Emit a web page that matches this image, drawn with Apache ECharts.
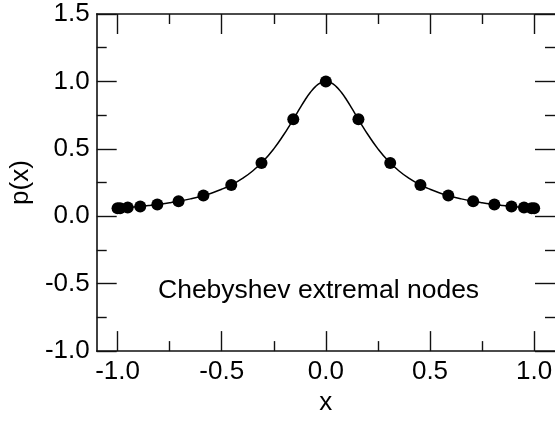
<!DOCTYPE html>
<html>
<head>
<meta charset="utf-8">
<script src="https://cdn.jsdelivr.net/npm/echarts@6/dist/echarts.min.js"></script>
<style>html,body{margin:0;padding:0;background:#fff}#c{width:555px;height:421px}</style>
</head>
<body>
<div id="c"></div>
<script>
// Chebyshev extremal nodes (points)
const nodeX = [-1.0, -0.9877, -0.9511, -0.8910, -0.8090, -0.7071, -0.5878, -0.4540, -0.3090, -0.1564, 0.0,
               0.1564, 0.3090, 0.4540, 0.5878, 0.7071, 0.8090, 0.8910, 0.9511, 0.9877, 1.0];
const nodeY = [0.0588, 0.0602, 0.0646, 0.0730, 0.0872, 0.1111, 0.1532, 0.2327, 0.3956, 0.7186, 1.0,
               0.7186, 0.3956, 0.2327, 0.1532, 0.1111, 0.0872, 0.0730, 0.0646, 0.0602, 0.0588];
// Curve p(x)
const curveX = [-1.0, -0.95, -0.9, -0.85, -0.8, -0.75, -0.7, -0.65, -0.6, -0.55, -0.5, -0.45, -0.4, -0.35, -0.3, -0.25,
                -0.2, -0.175, -0.15, -0.125, -0.1, -0.075, -0.05, -0.025, 0.0,
                0.025, 0.05, 0.075, 0.1, 0.125, 0.15, 0.175, 0.2,
                0.25, 0.3, 0.35, 0.4, 0.45, 0.5, 0.55, 0.6, 0.65, 0.7, 0.75, 0.8, 0.85, 0.9, 0.95, 1.0];
const curveY = [0.0588, 0.0648, 0.0716, 0.0796, 0.0890, 0.1000, 0.1131, 0.1289, 0.1479, 0.1712, 0.2000, 0.2358, 0.2809, 0.3378, 0.4098, 0.5000,
                0.6098, 0.6711, 0.7353, 0.8000, 0.8621, 0.9174, 0.9615, 0.9901, 1.0,
                0.9901, 0.9615, 0.9174, 0.8621, 0.8000, 0.7353, 0.6711, 0.6098,
                0.5000, 0.4098, 0.3378, 0.2809, 0.2358, 0.2000, 0.1712, 0.1479, 0.1289, 0.1131, 0.1000, 0.0890, 0.0796, 0.0716, 0.0648, 0.0588];
const xMajorTicks = [-1.0, -0.5, 0.0, 0.5, 1.0];
const xMinorTicks = [-0.75, -0.25, 0.25, 0.75];
const xTitle = 'x';
const yTitle = 'p(x)';
const annotation = 'Chebyshev extremal nodes';

const FONT = '"Liberation Sans", Arial, Helvetica, sans-serif';
const LINE = '#111';
const chart = echarts.init(document.getElementById('c'));

function xAxisCfg(pos, ticks, len, showLine, showLabel, name) {
  return {
    type: 'value', position: pos, min: -1.1, max: 1.1,
    name: name || '', nameLocation: 'middle', nameGap: 38,
    nameTextStyle: {fontFamily: FONT, fontSize: 26, color: '#000'},
    axisLine: {show: showLine, onZero: false, lineStyle: {color: LINE, width: 1.6}},
    axisTick: {show: true, inside: true, length: len, customValues: ticks, lineStyle: {color: LINE, width: 1.4}},
    axisLabel: {show: showLabel, customValues: ticks, margin: 8, fontFamily: FONT, fontSize: 26, color: '#000',
                formatter: v => v.toFixed(1)},
    splitLine: {show: false}
  };
}
function yAxisCfg(pos, showLine, showLabel, name) {
  return {
    type: 'value', position: pos, min: -1.0, max: 1.5, interval: 0.5,
    name: name || '', nameLocation: 'middle', nameGap: 50,
    nameTextStyle: {fontFamily: FONT, fontSize: 26, color: '#000'},
    axisLine: {show: showLine, onZero: false, lineStyle: {color: LINE, width: 1.6}},
    axisTick: {show: true, inside: true, length: 20, lineStyle: {color: LINE, width: 1.4}},
    minorTick: {show: true, splitNumber: 2, length: 10, lineStyle: {color: LINE, width: 1.4}},
    axisLabel: {show: showLabel, margin: 7, fontFamily: FONT, fontSize: 26, color: '#000',
                formatter: v => v.toFixed(1)},
    splitLine: {show: false}, minorSplitLine: {show: false}
  };
}

chart.setOption({
  animation: false,
  backgroundColor: '#fff',
  grid: {left: 90, top: 14, right: -3, bottom: 63, containLabel: false},
  xAxis: [
    xAxisCfg('bottom', xMajorTicks, 20, true, true, xTitle),
    xAxisCfg('bottom', xMinorTicks, 10, false, false),
    xAxisCfg('top', xMajorTicks, 20, true, false),
    xAxisCfg('top', xMinorTicks, 10, false, false)
  ],
  yAxis: [
    yAxisCfg('left', true, true, yTitle),
    yAxisCfg('right', false, false)
  ],
  series: [
    {
      type: 'line', xAxisIndex: 0, yAxisIndex: 0, smooth: true, showSymbol: false, silent: true,
      lineStyle: {color: '#000', width: 1.5},
      data: curveX.map((x, i) => [x, curveY[i]])
    },
    {
      type: 'scatter', xAxisIndex: 0, yAxisIndex: 0, symbol: 'circle', symbolSize: 12,
      itemStyle: {color: '#000', opacity: 1},
      data: nodeX.map((x, i) => [x, nodeY[i]])
    }
  ],
  graphic: [
    {type: 'text', left: 158, top: 277,
     style: {text: annotation, font: '26.5px ' + FONT, fill: '#000'}}
  ]
});
</script>
</body>
</html>
